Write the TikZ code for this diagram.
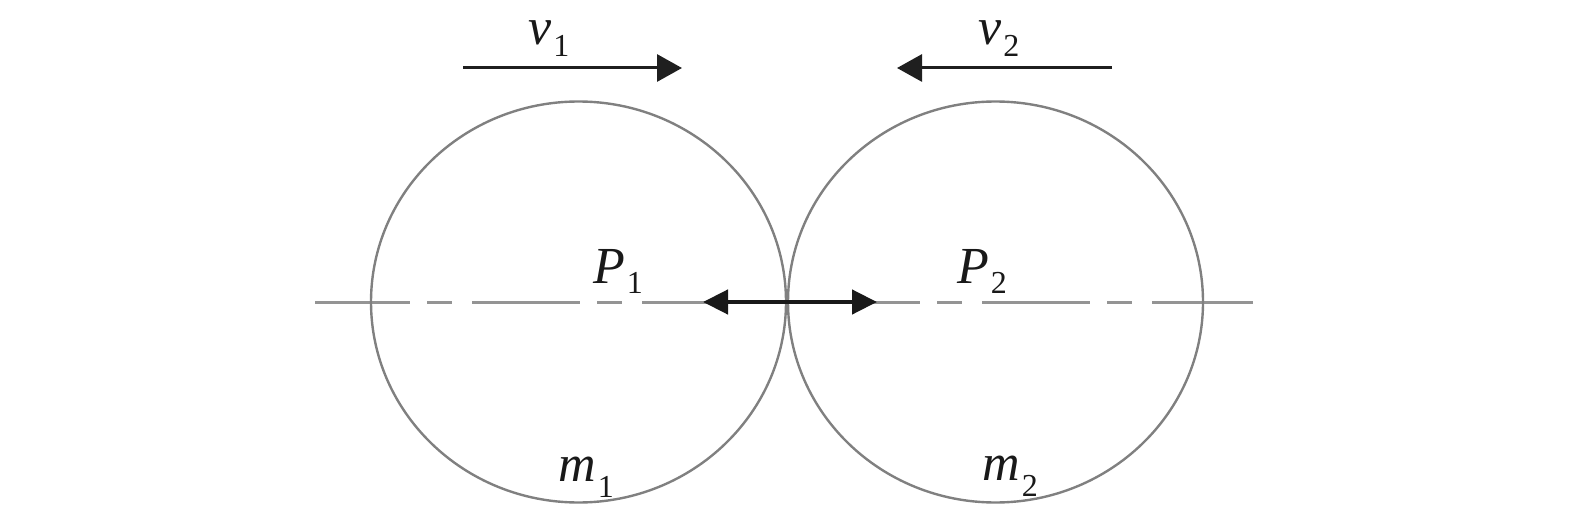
\documentclass[tikz,border=0pt]{standalone}
\usepackage{fontspec}
\setmainfont{Liberation Serif}
\usetikzlibrary{arrows.meta}
\newcommand\mainsz{\fontsize{52}{60}\selectfont}
\newcommand\subsz{\fontsize{32}{36}\selectfont}
\newcommand\symlab[3]{{\itshape #1}\kern2pt\raisebox{-#3pt}{\subsz #2}}
\begin{document}
\begin{tikzpicture}[x=1pt,y=-1pt,
  ball/.style={draw=black!50, line width=2.4pt},
  axis/.style={draw=black!42, line width=3pt, dash pattern=on 108pt off 17pt on 25pt off 20pt, dash phase=13pt},
  vel/.style={draw=black!88, line width=3pt, -{Triangle[length=25pt,width=27pt]}},
  force/.style={draw=black!90, line width=4.5pt, {Triangle[length=25pt,width=24pt]}-{Triangle[length=25pt,width=24pt]}},
  lab/.style={inner sep=0pt, anchor=base west, font=\mainsz, text=black!90}]
\useasboundingbox (0,0) rectangle (1575,516);
\coordinate (c1) at (578.5,302);
\coordinate (c2) at (995.5,302);
\coordinate (axL) at (315,302);
\coordinate (axR) at (1253,302);
\coordinate (fL) at (703,302);
\coordinate (fR) at (877,302);
\coordinate (v1s) at (463,68);
\coordinate (v1e) at (682,68);
\coordinate (v2s) at (1112,68);
\coordinate (v2e) at (897,68);
\draw[axis] (axL) -- (axR);
\draw[ball] (c1) ellipse [x radius=207.5, y radius=200.5];
\draw[ball] (c2) ellipse [x radius=207.5, y radius=200.5];
\draw[force] (fL) -- (fR);
\draw[vel] (v1s) -- (v1e);
\draw[vel] (v2s) -- (v2e);
\node[lab] (v1) at (528,45) {\symlab{v}{1}{12}};
\node[lab] (v2) at (978,45) {\symlab{v}{2}{12}};
\node[lab] (P1) at (593,283) {\symlab{P}{1}{10}};
\node[lab] (P2) at (957,283) {\symlab{P}{2}{10}};
\node[lab] (m1) at (558,481) {\symlab{m}{1}{16}};
\node[lab] (m2) at (982,480) {\symlab{m}{2}{16}};
\end{tikzpicture}
\end{document}
